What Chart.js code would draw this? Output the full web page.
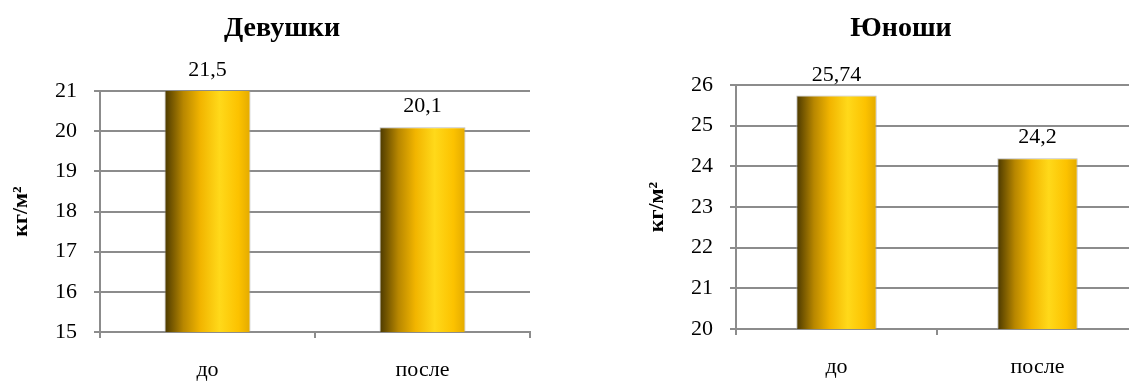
<!DOCTYPE html>
<html>
<head>
<meta charset="utf-8">
<script src="https://cdn.jsdelivr.net/npm/chart.js@4"></script>
<style>
  html, body { margin: 0; padding: 0; background: #fff; overflow: hidden; width: 1129px; height: 381px; }
  canvas { position: absolute; top: 0; }
  #girlsChart { left: 0; }
  #boysChart { left: 636px; }
</style>
</head>
<body>
<canvas id="girlsChart" width="560" height="381"></canvas>
<canvas id="boysChart" width="530" height="381"></canvas>
<script>
const categories = ['до', 'после'];
const girlsValues = [21.5, 20.1];
const boysValues = [25.74, 24.2];
const girlsRange = [15, 21];
const boysRange = [20, 26];
const unitLabel = 'кг/м²';

const FONT = '"Liberation Serif", "Times New Roman", serif';
const GRID = '#8c8c8c';

// горизонтальный градиент как у объёмных столбиков Excel
function barGradient(context) {
    const chart = context.chart;
    const xs = chart.scales.x;
    if (!xs || !chart.chartArea) return '#f5b800';
    const center = xs.getPixelForValue(context.dataIndex);
    const half = (xs.width / categories.length) * 0.4 / 2;
    const g = chart.ctx.createLinearGradient(center - half, 0, center + half, 0);
    g.addColorStop(0, '#4a3800');
    g.addColorStop(0.22, '#b88700');
    g.addColorStop(0.42, '#f2b500');
    g.addColorStop(0.64, '#ffd91a');
    g.addColorStop(0.86, '#fcc200');
    g.addColorStop(1, '#e3aa00');
    return g;
}

// подписи значений над столбиками
const valueLabels = {
    id: 'valueLabels',
    afterDatasetsDraw(chart) {
        const ctx = chart.ctx;
        const meta = chart.getDatasetMeta(0);
        ctx.save();
        ctx.font = '22px ' + FONT;
        ctx.fillStyle = '#000';
        ctx.textAlign = 'center';
        ctx.textBaseline = 'alphabetic';
        meta.data.forEach(function (bar, i) {
            const v = chart.data.datasets[0].data[i];
            const top = Math.max(bar.y, chart.chartArea.top);
            ctx.fillText(String(v).replace('.', ','), bar.x, top - 15);
        });
        ctx.restore();
    }
};

// заголовок в Excel стоит по центру всей области диаграммы, а не только графика
const titleShift = {
    id: 'titleShift',
    afterLayout(chart, args, opts) {
        const t = chart.titleBlock;
        if (!t) return;
        t.left += opts.dx;
        t.right += opts.dx;
    }
};

function makeChart(id, title, values, range, padRight, titleBottom, axisHeight, dx) {
    return new Chart(document.getElementById(id), {
        type: 'bar',
        data: {
            labels: categories,
            datasets: [{
                data: values,
                backgroundColor: barGradient,
                borderColor: 'rgba(160,160,160,0.7)',
                borderWidth: 1,
                barPercentage: 0.4,
                categoryPercentage: 1.0
            }]
        },
        options: {
            responsive: false,
            animation: false,
            layout: { padding: { left: 0, right: padRight, top: 0, bottom: 0 } },
            plugins: {
                legend: { display: false },
                tooltip: { enabled: false },
                titleShift: { dx: dx },
                title: {
                    display: true,
                    text: title,
                    color: '#000',
                    font: { family: FONT, size: 28, weight: 'bold', lineHeight: 1.2 },
                    padding: { top: 12, bottom: titleBottom }
                }
            },
            scales: {
                x: {
                    afterFit: function (scale) { scale.height = axisHeight; },
                    grid: { drawOnChartArea: false, offset: true, tickLength: 6, color: GRID, lineWidth: 2 },
                    border: { color: GRID, width: 2 },
                    ticks: { color: '#000', padding: 19, font: { family: FONT, size: 22 } }
                },
                y: {
                    min: range[0],
                    max: range[1],
                    afterFit: function (scale) { scale.width = 100; },
                    grid: { color: GRID, lineWidth: 2, tickLength: 6 },
                    border: { color: GRID, width: 2 },
                    ticks: { stepSize: 1, color: '#000', padding: 17, font: { family: FONT, size: 22 } },
                    title: {
                        display: true,
                        text: unitLabel,
                        color: '#000',
                        font: { family: FONT, size: 22, weight: 'bold' },
                        padding: { top: 8, bottom: 0 }
                    }
                }
            }
        },
        plugins: [valueLabels, titleShift]
    });
}

makeChart('girlsChart', 'Девушки', girlsValues, girlsRange, 30, 45.4, 49, 17);
makeChart('boysChart', 'Юноши', boysValues, boysRange, 28, 39.4, 52, 14);
</script>
</body>
</html>
